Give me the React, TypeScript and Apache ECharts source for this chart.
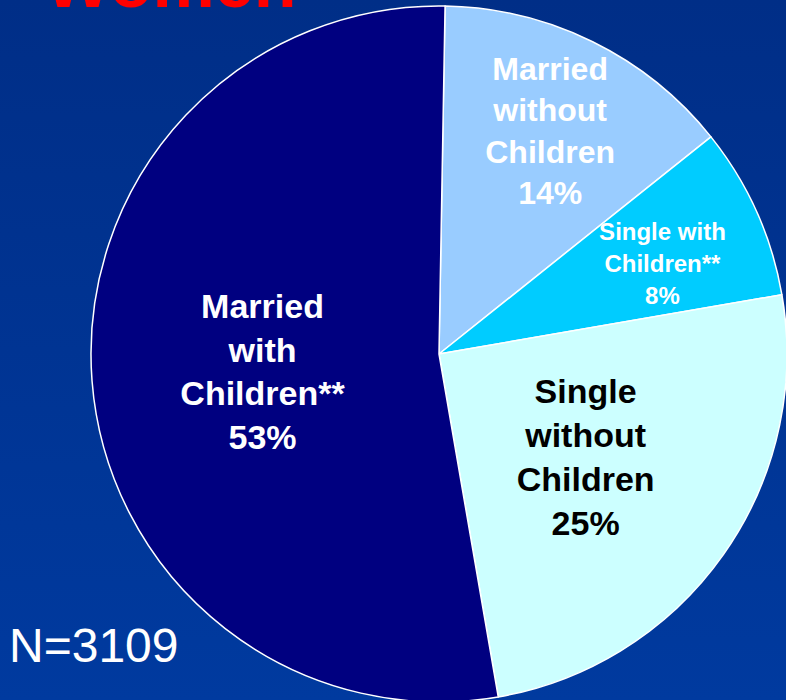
import React, { useEffect, useRef } from "react";
import * as echarts from "echarts";

const categories = [
  "Married\nwithout\nChildren",
  "Single with\nChildren**",
  "Single\nwithout\nChildren",
  "Married\nwith\nChildren**",
];
const values = [14, 8, 25, 53];
const sliceColors = ["#99CCFF", "#00CCFF", "#CCFFFF", "#000080"];
const labelColors = ["#FFFFFF", "#FFFFFF", "#000000", "#FFFFFF"];
const labelSizes = [32, 24, 34, 34];
const labelLineHeights = [41.5, 32, 44, 43.5];
const labelShift = [
  [33, -64],
  [62, -18],
  [2, 1],
  [0, 4],
];
const titleText = "Women";
const noteText = "N=3109";

export default function App() {
  const ref = useRef<HTMLDivElement>(null);
  useEffect(() => {
    if (!ref.current) return;
    const chart = echarts.init(ref.current, null, { renderer: "svg" });
    const font = "'Liberation Sans', Arial, sans-serif";
    chart.setOption({
      animation: false,
      backgroundColor: new echarts.graphic.LinearGradient(0, 0, 0, 1, [
        { offset: 0, color: "#002E87" },
        { offset: 1, color: "#003A9F" },
      ]),
      graphic: [
        {
          type: "text",
          x: 45,
          y: -17,
          style: {
            text: titleText,
            fill: "#FF0000",
            font: `bold 70px ${font}`,
            textAlign: "left",
            textVerticalAlign: "middle",
          },
          z: 10,
        },
        {
          type: "text",
          x: 9,
          y: 645,
          style: {
            text: noteText,
            fill: "#FFFFFF",
            font: `48px ${font}`,
            textAlign: "left",
            textVerticalAlign: "middle",
          },
          z: 10,
        },
      ],
      series: [
        {
          type: "pie",
          center: [439, 354],
          radius: [0, 348],
          startAngle: 89,
          clockwise: true,
          silent: true,
          itemStyle: { borderColor: "#FFFFFF", borderWidth: 1.5 },
          label: {
            show: true,
            position: "inside",
            fontFamily: font,
            fontWeight: "bold",
            formatter: (p: any) => `${p.name}\n${p.value}%`,
          },
          labelLine: { show: false },
          labelLayout: (p: any) => ({
            dx: labelShift[p.dataIndex][0],
            dy: labelShift[p.dataIndex][1],
          }),
          data: categories.map((name, i) => ({
            name,
            value: values[i],
            itemStyle: { color: sliceColors[i] },
            label: {
              color: labelColors[i],
              fontSize: labelSizes[i],
              lineHeight: labelLineHeights[i],
            },
          })),
        },
      ],
    });
    return () => chart.dispose();
  }, []);
  return (
    <div
      ref={ref}
      style={{ position: "absolute", left: 0, top: 0, width: 786, height: 700 }}
    />
  );
}
